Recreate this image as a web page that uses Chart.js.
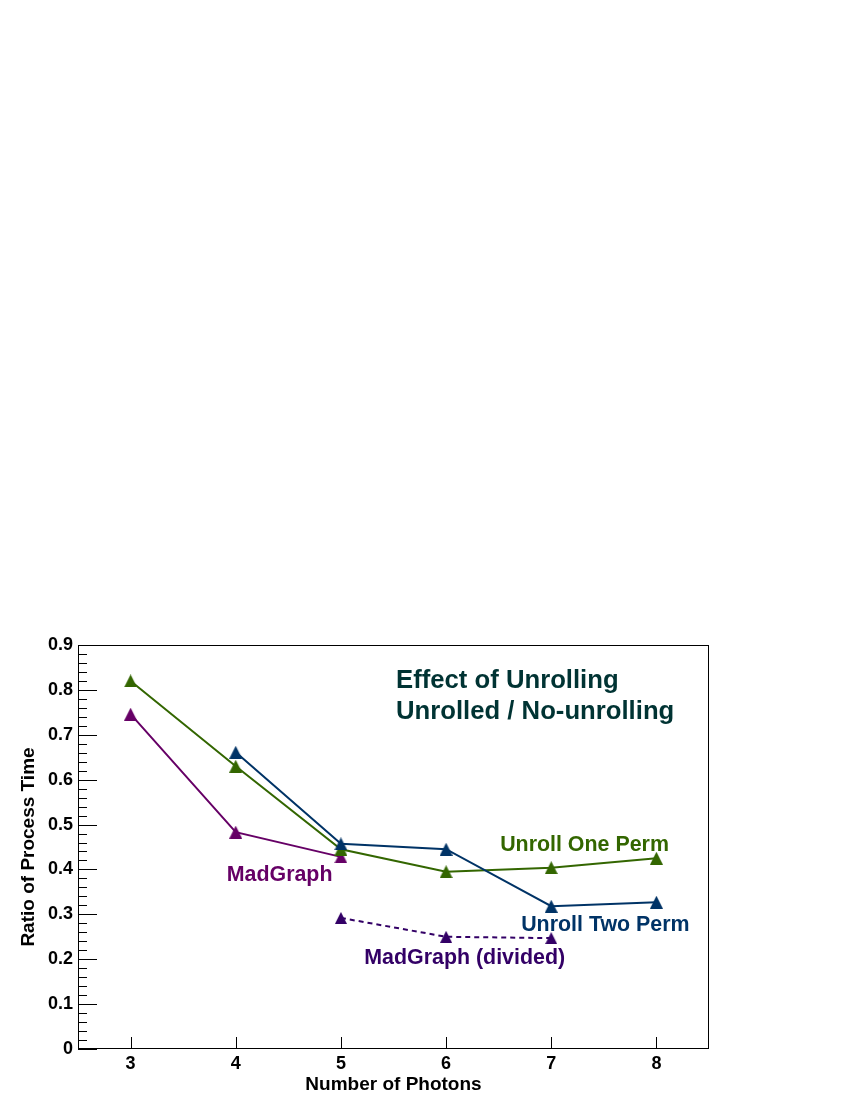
<!DOCTYPE html>
<html>
<head>
<meta charset="utf-8">
<script src="https://cdn.jsdelivr.net/npm/chart.js@4.4.1/dist/chart.umd.min.js"></script>
<style>
  html, body { margin: 0; padding: 0; background: #fff; }
  canvas { display: block; }
</style>
</head>
<body>
<canvas id="myChart" width="850" height="1100"></canvas>
<script>
// photon multiplicities and measured ratios
const photonsOne = [3, 4, 5, 6, 7, 8];
const unrollOne = [0.820, 0.630, 0.445, 0.395, 0.404, 0.425];

const photonsTwo = [4, 5, 6, 7, 8];
const unrollTwo = [0.661, 0.457, 0.445, 0.318, 0.327];

const photonsMad = [3, 4, 5];
const madGraph = [0.746, 0.483, 0.428];

const photonsDiv = [5, 6, 7];
const madDivided = [0.292, 0.250, 0.247];

const xTicks = [3, 4, 5, 6, 7, 8];
const yTicks = [0, 0.1, 0.2, 0.3, 0.4, 0.5, 0.6, 0.7, 0.8, 0.9];

const green = '#336600', blue = '#003366', purple = '#660066', violet = '#330066';
const FONT = '"Liberation Sans", Arial, Helvetica, sans-serif';

// ROOT style up-triangle, centred on its bounding box
function triangle(color, w, h) {
  const cv = document.createElement('canvas');
  cv.width = w; cv.height = h;
  const c = cv.getContext('2d');
  c.fillStyle = color;
  c.beginPath();
  c.moveTo(w / 2, 0);
  c.lineTo(w, h);
  c.lineTo(0, h);
  c.closePath();
  c.fill();
  return cv;
}

function pts(xs, ys) {
  return xs.map((x, i) => ({ x: x, y: ys[i] }));
}

function series(xs, ys, color, dashed) {
  return {
    data: pts(xs, ys),
    borderColor: color,
    backgroundColor: color,
    borderWidth: 2,
    borderDash: dashed ? [5, 4] : [],
    pointStyle: dashed ? triangle(color, 12, 12) : triangle(color, 13, 13),
    pointRadius: 7,
    tension: 0
  };
}

// text placed in data coordinates
const notes = [
  { text: 'Effect of Unrolling', x: 5.524, y: 0.804, color: '#003333', size: 25.7 },
  { text: 'Unrolled / No-unrolling', x: 5.524, y: 0.735, color: '#003333', size: 25.7 },
  { text: 'Unroll One Perm', x: 6.514, y: 0.442, color: green, size: 21.4 },
  { text: 'Unroll Two Perm', x: 6.714, y: 0.263, color: blue, size: 21.4 },
  { text: 'MadGraph', x: 3.914, y: 0.375, color: purple, size: 21.4 },
  { text: 'MadGraph (divided)', x: 5.222, y: 0.189, color: violet, size: 21.4 }
];

const framePlugin = {
  id: 'frame',
  afterDraw(chart) {
    const c = chart.ctx, a = chart.chartArea;
    const xs = chart.scales.x, ys = chart.scales.y;
    c.save();
    c.strokeStyle = '#000';
    c.lineWidth = 1;
    c.strokeRect(a.left + 0.5, a.top + 0.5, a.right - a.left - 1, a.bottom - a.top - 1);

    c.beginPath();
    // y ticks, major every 0.1 and minor every 0.02
    for (let i = 0; i <= 45; i++) {
      const py = Math.round(ys.getPixelForValue(i * 0.02)) + 0.5;
      const len = i % 5 === 0 ? 19 : 9;
      c.moveTo(a.left, py);
      c.lineTo(a.left + len, py);
    }
    xTicks.forEach(v => {
      const px = Math.round(xs.getPixelForValue(v)) + 0.5;
      c.moveTo(px, a.bottom);
      c.lineTo(px, a.bottom - 12);
    });
    c.stroke();

    c.textAlign = 'left';
    c.textBaseline = 'alphabetic';
    notes.forEach(n => {
      c.font = 'bold ' + n.size + 'px ' + FONT;
      c.fillStyle = n.color;
      c.fillText(n.text, xs.getPixelForValue(n.x), ys.getPixelForValue(n.y));
    });
    c.restore();
  }
};

const ctx = document.getElementById('myChart').getContext('2d');

new Chart(ctx, {
  type: 'line',
  data: {
    datasets: [
      series(photonsTwo, unrollTwo, blue, false),
      series(photonsOne, unrollOne, green, false),
      series(photonsMad, madGraph, purple, false),
      series(photonsDiv, madDivided, violet, true)
    ]
  },
  options: {
    responsive: false,
    animation: false,
    devicePixelRatio: 1,
    layout: { padding: { top: 645, right: 141, left: 0, bottom: 0 } },
    scales: {
      x: {
        type: 'linear',
        min: 2.5,
        max: 8.5,
        afterBuildTicks: s => { s.ticks = xTicks.map(v => ({ value: v })); },
        afterFit: s => { s.height = 51; },
        grid: { display: false, drawTicks: false },
        border: { display: false },
        ticks: {
          padding: 4,
          color: '#000',
          font: { family: FONT, size: 18, weight: 'bold' },
          callback: v => String(v)
        },
        title: {
          display: true,
          text: 'Number of Photons',
          color: '#000',
          padding: { top: 0, bottom: 4 },
          font: { family: FONT, size: 19, weight: 'bold' }
        }
      },
      y: {
        min: 0,
        max: 0.9,
        afterBuildTicks: s => { s.ticks = yTicks.map(v => ({ value: v })); },
        afterFit: s => { s.width = 78; },
        grid: { display: false, drawTicks: false },
        border: { display: false },
        ticks: {
          padding: 5,
          color: '#000',
          font: { family: FONT, size: 18, weight: 'bold' },
          callback: v => v === 0 ? '0' : v.toFixed(1)
        },
        title: {
          display: true,
          text: 'Ratio of Process Time',
          color: '#000',
          padding: { top: 17, bottom: 0 },
          font: { family: FONT, size: 19, weight: 'bold' }
        }
      }
    },
    plugins: {
      legend: { display: false },
      tooltip: { enabled: false }
    }
  },
  plugins: [framePlugin]
});
</script>
</body>
</html>
